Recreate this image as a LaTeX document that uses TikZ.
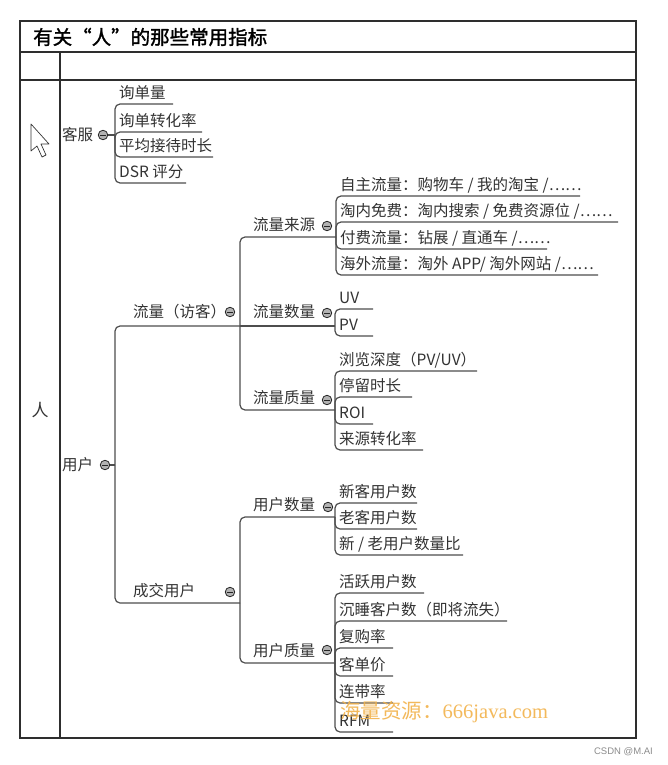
\documentclass[tikz,border=0pt]{standalone}
\usepackage{fontspec}
\newfontfamily\cjk{Noto Sans CJK SC}
\newfontfamily\cjkb[FakeBold=1.5]{Noto Sans CJK SC}
\newfontfamily\lserif{Liberation Serif}
\newfontfamily\lsans{Liberation Sans}
\definecolor{linec}{HTML}{4E4E4E}
\definecolor{framec}{HTML}{2E2E2E}
\definecolor{textc}{HTML}{333333}
\definecolor{wmark}{HTML}{F2B24A}
\newcommand{\mmleaf}[6]{%
  \node[txt] (#1) at (#3,#4-11) {#6};
  \coordinate (#1-u) at (#5,#4);
  \draw[edge] (#2) |- (#1-u);
}
\begin{document}
\begin{tikzpicture}[x=1pt,y=-1pt,
  frame/.style={draw=framec, line width=1.3pt},
  edge/.style={draw=linec, line width=1.2pt, rounded corners=5pt},
  txt/.style={font=\cjk\fontsize{15.5}{18}\selectfont, text=textc, inner sep=0pt, anchor=west},
  fold/.style={circle, draw=black!85, fill=black!30, line width=0.8pt, minimum size=9.5pt, inner sep=0pt,
    path picture={\draw[line width=0.9pt] ([xshift=1.8pt]path picture bounding box.west) -- ([xshift=-1.8pt]path picture bounding box.east);}}
]
\useasboundingbox (0,0) rectangle (667,765);
\fill[white] (0,0) rectangle (667,765);

% frame
\draw[frame] (20,21) rectangle (636,738);
\draw[frame] (20,52) -- (636,52);
\draw[frame] (20,80) -- (636,80);
\draw[frame] (60,52) -- (60,738);
\node[font=\cjkb\fontsize{19.5}{20}\selectfont, anchor=west, inner sep=0pt, text=black] (title) at (33,37) {有关“人”的那些常用指标};
\node[font=\cjk\fontsize{17}{17}\selectfont, text=textc, inner sep=0pt] (ren) at (40,410) {人};

% cursor
\draw[black!80, fill=white, line width=0.7pt, line join=round] (31,124) -- (31,151) -- (37,146) -- (42,157) -- (46,155) -- (41,144) -- (49,144) -- cycle;

% 客服
\node[txt] (kf) at (62,135) {客服};
\node[fold] (kf-c) at (103,135) {};
\coordinate (kf-j) at (115,135);
\draw[edge] (kf-c) -- (kf-j);
\mmleaf{kf1}{kf-j}{119}{104}{173}{询单量}
\mmleaf{kf2}{kf-j}{119}{132}{202}{询单转化率}
\mmleaf{kf3}{kf-j}{119}{157}{213}{平均接待时长}
\mmleaf{kf4}{kf-j}{119}{183}{186}{DSR 评分}

% 用户
\node[txt] (yh) at (62,465) {用户};
\node[fold] (yh-c) at (105,465) {};
\coordinate (yh-j) at (115,465);
\draw[edge] (yh-c) -- (yh-j);

% 流量（访客）
\node[txt] (ll) at (133,312) {流量（访客）};
\node[fold] (ll-c) at (230,312) {};
\coordinate (ll-j) at (240,326);
\draw[edge] (yh-j) |- (ll-j);

% 成交用户
\node[txt] (cj) at (133,591) {成交用户};
\node[fold] (cj-c) at (230,592) {};
\coordinate (cj-j) at (240,603);
\draw[edge] (yh-j) |- (cj-j);

% 流量来源
\node[txt] (ly) at (253,225) {流量来源};
\node[fold] (ly-c) at (327,226) {};
\coordinate (ly-j) at (336,237);
\draw[edge] (ll-j) |- (ly-j);
\mmleaf{ly1}{ly-j}{340}{196}{580}{自主流量：购物车 / 我的淘宝 /……}
\mmleaf{ly2}{ly-j}{340}{222}{618}{淘内免费：淘内搜索 / 免费资源位 /……}
\mmleaf{ly3}{ly-j}{340}{249}{547}{付费流量：钻展 / 直通车 /……}
\mmleaf{ly4}{ly-j}{340}{275}{598}{海外流量：淘外 APP/ 淘外网站 /……}

% 流量数量
\node[txt] (ls) at (253,312) {流量数量};
\node[fold] (ls-c) at (327,313) {};
\coordinate (ls-j) at (335,326);
\draw[edge] (ll-j) -- (ls-j);
\mmleaf{ls1}{ls-j}{339}{309}{373}{UV}
\mmleaf{ls2}{ls-j}{339}{336}{373}{PV}

% 流量质量
\node[txt] (lz) at (253,398) {流量质量};
\node[fold] (lz-c) at (327,400) {};
\coordinate (lz-j) at (335,410);
\draw[edge] (ll-j) |- (lz-j);
\mmleaf{lz1}{lz-j}{339}{371}{477}{浏览深度（PV/UV）}
\mmleaf{lz2}{lz-j}{339}{397}{412}{停留时长}
\mmleaf{lz3}{lz-j}{339}{424}{373}{ROI}
\mmleaf{lz4}{lz-j}{339}{450}{423}{来源转化率}

% 用户数量
\node[txt] (ys) at (253,505) {用户数量};
\node[fold] (ys-c) at (328,507) {};
\coordinate (ys-j) at (335,517);
\draw[edge] (cj-j) |- (ys-j);
\mmleaf{ys1}{ys-j}{339}{503}{417}{新客用户数}
\mmleaf{ys2}{ys-j}{339}{529}{417}{老客用户数}
\mmleaf{ys3}{ys-j}{339}{555}{463}{新 / 老用户数量比}

% 用户质量
\node[txt] (yz) at (253,651) {用户质量};
\node[fold] (yz-c) at (327,650) {};
\coordinate (yz-j) at (335,663);
\draw[edge] (cj-j) |- (yz-j);
\mmleaf{yz1}{yz-j}{339}{593}{424}{活跃用户数}
\mmleaf{yz2}{yz-j}{339}{621}{507}{沉睡客户数（即将流失）}
\mmleaf{yz3}{yz-j}{339}{648}{393}{复购率}
\mmleaf{yz4}{yz-j}{339}{676}{393}{客单价}
\mmleaf{yz5}{yz-j}{339}{703}{393}{连带率}
\mmleaf{yz6}{yz-j}{339}{732}{393}{RFM}

% watermarks
\node[anchor=west, inner sep=0pt, text=wmark, opacity=0.9, font=\fontsize{20.5}{21}\selectfont] (wm) at (340,712) {{\cjk 海量资源：}{\lserif 666java.com}};
\node[anchor=east, inner sep=0pt, text=black!45, font=\lsans\fontsize{9.5}{10}\selectfont] (csdn) at (653,752) {CSDN @M.AI};
\end{tikzpicture}
\end{document}
